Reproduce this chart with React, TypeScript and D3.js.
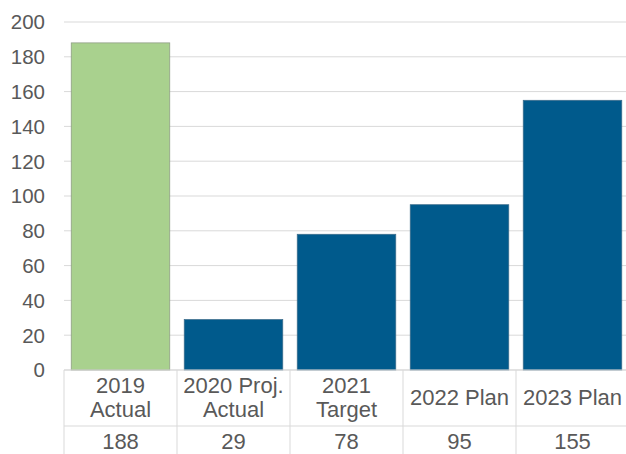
import React from 'react';
import * as d3 from 'd3';

const categories = ['2019 Actual', '2020 Proj. Actual', '2021 Target', '2022 Plan', '2023 Plan'];
const categoryLines = [['2019', 'Actual'], ['2020 Proj.', 'Actual'], ['2021', 'Target'], ['2022 Plan'], ['2023 Plan']];
const values = [188, 29, 78, 95, 155];
const yTicks = [0, 20, 40, 60, 80, 100, 120, 140, 160, 180, 200];

const width = 626;
const height = 454;
const left = 64;
const right = 629;
const top = 22;
const bottom = 370;
const rowSplit = 426;

const textColor = '#595959';
const gridColor = '#d9d9d9';
const font = '"Liberation Sans", Arial, sans-serif';

const App = () => {
  const x = d3.scaleBand().domain(categories).range([left, right]);
  const y = d3.scaleLinear().domain([0, 200]).range([bottom, top]);
  const bw = x.bandwidth();
  const barW = bw * 0.872;

  return (
    <svg
      width={width}
      height={height}
      style={{ position: 'absolute', left: 0, top: 0, background: '#fff' }}
      fontFamily={font}
    >
      {/* gridlines */}
      {yTicks.map(t => (
        <line key={'g' + t} x1={left} x2={width} y1={y(t)} y2={y(t)} stroke={gridColor} strokeWidth={1} />
      ))}
      {/* y labels */}
      {yTicks.map(t => (
        <text key={'l' + t} x={45} y={y(t)} dy="0.36em" textAnchor="end" fontSize={20.5} fill={textColor}>
          {t}
        </text>
      ))}
      {/* bars */}
      {categories.map((c, i) => (
        <rect
          key={c}
          x={(x(c) as number) + (bw - barW) / 2}
          y={y(values[i])}
          width={barW}
          height={y(0) - y(values[i])}
          fill={i === 0 ? '#a9d18e' : '#005a8c'}
          stroke={i === 0 ? '#8c9a84' : '#3d6d8c'}
          strokeWidth={0.75}
        />
      ))}
      {/* data table */}
      <line x1={left} x2={width} y1={bottom} y2={bottom} stroke={gridColor} />
      <line x1={left} x2={width} y1={rowSplit} y2={rowSplit} stroke={gridColor} />
      {categories.map(c => (
        <line key={'v' + c} x1={(x(c) as number)} x2={(x(c) as number)} y1={bottom} y2={height} stroke={gridColor} />
      ))}
      {categories.map((c, i) => {
        const cx = (x(c) as number) + bw / 2;
        const lines = categoryLines[i];
        const mid = (bottom + rowSplit) / 2;
        const startY = mid - ((lines.length - 1) * 24) / 2;
        return (
          <text key={'t' + c} textAnchor="middle" fontSize={22} fill={textColor}>
            {lines.map((ln, j) => (
              <tspan key={j} x={cx} y={startY + j * 24} dy="0.34em">
                {ln}
              </tspan>
            ))}
          </text>
        );
      })}
      {categories.map((c, i) => (
        <text
          key={'d' + c}
          x={(x(c) as number) + bw / 2}
          y={442}
          dy="0.34em"
          textAnchor="middle"
          fontSize={22}
          fill={textColor}
        >
          {values[i]}
        </text>
      ))}
    </svg>
  );
};

export default App;
